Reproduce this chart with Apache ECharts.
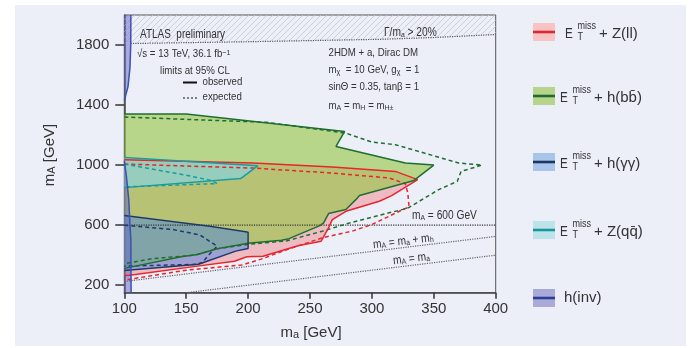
<!DOCTYPE html>
<html>
<head>
<meta charset="utf-8">
<script src="https://cdn.jsdelivr.net/npm/echarts@6/dist/echarts.min.js"></script>
<style>
  html, body { margin: 0; padding: 0; background: #ffffff; }
  #panel { position: absolute; left: 15px; top: 5px; width: 671px; height: 341px; background: #eceef8; }
  #main { position: absolute; left: 0; top: 0; width: 692px; height: 348px; }
</style>
</head>
<body>
<div id="panel"></div>
<div id="main"></div>
<script>
// axis ranges / ticks
const xRange = [100, 400]
const yRange = [150, 2000]
const yTickValues = [200, 600, 1000, 1400, 1800]

// contours, [m_a, m_A] in GeV
const zllObserved = [[100, 1036], [204, 1014], [268, 987], [319, 958], [337, 903], [316, 797], [306, 759], [279, 692], [268, 637], [265, 582], [259, 493], [241, 465], [212, 393], [199, 389], [189, 360], [159, 327], [103, 265], [100, 265]]
const zllExpected = [[100, 1007], [204, 980], [268, 947], [314, 914], [327, 876], [329, 815], [330, 720], [325, 704], [300, 604], [284, 560], [260, 516], [228, 427], [210, 372], [195, 335], [150, 300], [103, 238], [100, 238]]

const bbObserved = [[100, 1340], [150, 1340], [278, 1224], [271, 1124], [327, 1014], [350, 1000], [334, 898], [290, 797], [287, 770], [279, 704], [265, 677], [261, 615], [258, 597], [233, 510], [227, 500], [200, 480], [175, 443], [159, 405], [146, 389], [100, 312]]
const bbExpected = [[100, 1320], [215, 1285], [279, 1213], [300, 1153], [319, 1136], [370, 1014], [389, 1000], [372, 958], [369, 892], [354, 837], [330, 718], [325, 705], [282, 615], [260, 560], [231, 495], [200, 472], [175, 442], [157, 400], [122, 376], [100, 343]]

const yyObserved = [[100, 664], [169, 593], [198, 556], [200, 553], [200, 445], [190, 427], [160, 340], [100, 298]]
const yyExpected = [[100, 600], [139, 571], [161, 535], [175, 460], [168, 400], [163, 350], [156, 338], [100, 327]]

const zqqObserved = [[100, 1051], [208, 996], [194, 910], [100, 850]]
const zqqExpected = [[100, 1007], [148, 936], [170, 898], [175, 877], [100, 855]]

const hinvObserved = [[100, 150], [105.5, 150], [105.3, 500], [104.6, 600], [103.6, 770], [101.7, 925], [100.5, 1000], [100, 1030], [100, 1430], [100.5, 1440], [103, 1523], [104.6, 1650], [105.2, 1800], [105.3, 2000], [100, 2000]]
const hinvLower = [[105.5, 150], [105.3, 500], [104.6, 600], [103.6, 770], [101.7, 925], [100.5, 1000], [100, 1030]]
const hinvUpper = [[100, 1430], [100.5, 1440], [103, 1523], [104.6, 1650], [105.2, 1800], [105.3, 2000]]

// width limit, reference lines
const widthLimit = [[105, 1810], [200, 1822], [306, 1838], [350, 1850], [400, 1870]]
const widthRegion = [[100, 2000], [400, 2000]].concat(widthLimit.slice().reverse()).concat([[100, 1810]])
const lineMA600 = [[100, 600], [400, 600]]
const lineMAmamh = [[100, 225], [400, 525]]
const lineMAma = [[150, 150], [400, 400]]

const legendItems = [
  { main: '+ Z(ll)', line: '#e3242b', box: '#f8c3c4', y: 32, dx: 5 },
  { main: '+ h(bb\u0304)', line: '#1e6b2f', box: '#b6d48b', y: 96, dx: 0 },
  { main: '+ h(\u03b3\u03b3)', line: '#1c3566', box: '#a8c5ea', y: 162, dx: 0 },
  { main: '+ Z(qq\u0304)', line: '#14999b', box: '#bde2ea', y: 230, dx: 0 },
  { main: 'h(inv)', line: '#2d3f97', box: '#a9aad8', y: 298, dx: 4, plain: true }
]

const FONT = '"Liberation Sans", Arial, sans-serif'

const hatch = document.createElement('canvas')
hatch.width = 6
hatch.height = 6
const hc = hatch.getContext('2d')
hc.strokeStyle = '#c5c7d3'
hc.lineWidth = 0.8
hc.beginPath()
hc.moveTo(0, 6); hc.lineTo(6, 0)
hc.moveTo(-1, 1); hc.lineTo(1, -1)
hc.moveTo(5, 7); hc.lineTo(7, 5)
hc.stroke()

function fill (points, color, z) {
  return {
    type: 'custom',
    coordinateSystem: 'cartesian2d',
    silent: true,
    clip: true,
    z: z,
    data: [points[0]],
    renderItem: function (params, api) {
      return {
        type: 'polygon',
        shape: { points: points.map(p => api.coord(p)) },
        style: { fill: color }
      }
    }
  }
}

function outline (points, color, type, width, z, close) {
  return {
    type: 'line',
    silent: true,
    symbol: 'none',
    z: z,
    data: close ? points.concat([points[0]]) : points,
    lineStyle: { color: color, width: width, type: type }
  }
}

const rich = {
  s: { fontSize: 8, lineHeight: 4, verticalAlign: 'bottom', fill: '#333', fontFamily: FONT },
  p: { fontSize: 8, lineHeight: 4, verticalAlign: 'top', fill: '#333', fontFamily: FONT }
}

function label (x, y, text, size, rot, sx) {
  return {
    type: 'text',
    x: x,
    y: y,
    rotation: rot || 0,
    scaleX: sx || 0.88,
    z: 50,
    style: { text: text, fontSize: size || 11, fontFamily: FONT, fill: '#333', align: 'left', verticalAlign: 'middle', rich: rich }
  }
}

const graphics = [
  label(140, 35, 'ATLAS  preliminary', 12, 0, 0.83),
  label(137, 54, '\u221as = 13 TeV, 36.1 fb{p|\u22121}'),
  label(160, 70.7, 'limits at 95% CL'),
  { type: 'line', z: 50, shape: { x1: 183, y1: 82.5, x2: 197, y2: 82.5 }, style: { stroke: '#111', lineWidth: 2 } },
  label(202.5, 81.7, 'observed'),
  { type: 'line', z: 50, shape: { x1: 183, y1: 98, x2: 197, y2: 98 }, style: { stroke: '#111', lineWidth: 1.2, lineDash: [2, 2] } },
  label(202.5, 97.3, 'expected'),
  label(384, 33, '\u0393/m{s|a} > 20%', 12, 0, 0.85),
  label(328.5, 53.3, '2HDM + a, Dirac DM'),
  label(328.5, 70, 'm{s|\u03c7}  = 10 GeV, g{s|\u03c7}  = 1'),
  label(328.5, 86.7, 'sin\u0398 = 0.35, tan\u03b2 = 1'),
  label(328.5, 106, 'm{s|A} = m{s|H} = m{s|H\u00b1}'),
  label(412, 216, 'm{s|A} = 600 GeV', 12, 0, 0.85),
  label(373, 245, 'm{s|A} = m{s|a} + m{s|h}', 12, 0.12, 0.85),
  label(393, 261, 'm{s|A} = m{s|a}', 12, 0.12, 0.85),
  {
    type: 'text', x: 311, y: 333, z: 50,
    style: { text: 'm{a|a} [GeV]', fontSize: 15, fontFamily: FONT, fill: '#333', align: 'center', verticalAlign: 'middle',
      rich: { a: { fontSize: 11, lineHeight: 6, verticalAlign: 'bottom', fill: '#333', fontFamily: FONT } } }
  },
  {
    type: 'text', x: 50, y: 155, z: 50, rotation: Math.PI / 2,
    style: { text: 'm{a|A} [GeV]', fontSize: 15, fontFamily: FONT, fill: '#333', align: 'center', verticalAlign: 'middle',
      rich: { a: { fontSize: 11, lineHeight: 6, verticalAlign: 'bottom', fill: '#333', fontFamily: FONT } } }
  }
]

legendItems.forEach(function (it) {
  graphics.push({ type: 'rect', z: 50, shape: { x: 533, y: it.y - 9, width: 22, height: 18 }, style: { fill: it.box } })
  graphics.push({ type: 'line', z: 51, shape: { x1: 533, y1: it.y, x2: 555, y2: it.y }, style: { stroke: it.line, lineWidth: 2.6 } })
  const tx = 560 + it.dx
  const ts = { fontSize: 15, fontFamily: FONT, fill: '#333', align: 'left', verticalAlign: 'middle' }
  if (it.plain) {
    graphics.push({ type: 'text', z: 51, x: tx, y: it.y, style: Object.assign({ text: it.main }, ts) })
    return
  }
  graphics.push({ type: 'text', z: 51, x: tx, y: it.y + 2, scaleX: 0.78, style: Object.assign({ text: 'E' }, ts) })
  graphics.push({ type: 'text', z: 51, x: tx + 12.5, y: it.y - 6, scaleX: 0.82, style: Object.assign({}, ts, { text: 'miss', fontSize: 11 }) })
  graphics.push({ type: 'text', z: 51, x: tx + 12.5, y: it.y + 5, scaleX: 0.82, style: Object.assign({}, ts, { text: 'T', fontSize: 11 }) })
  graphics.push({ type: 'text', z: 51, x: tx + 34, y: it.y + 2, style: Object.assign({ text: it.main }, ts) })
})

const chart = echarts.init(document.getElementById('main'), null, { renderer: 'canvas' })
chart.setOption({
  animation: false,
  backgroundColor: 'transparent',
  grid: { left: 124.3, right: 196.3, top: 15, bottom: 55.3, show: true, borderColor: '#555', borderWidth: 1 },
  xAxis: {
    type: 'value',
    min: xRange[0],
    max: xRange[1],
    interval: 50,
    axisLine: { lineStyle: { color: '#444', width: 1.5 } },
    axisTick: { length: 6, lineStyle: { color: '#333', width: 1.5 } },
    axisLabel: { margin: 9, fontSize: 15, fontFamily: FONT, color: '#333', formatter: v => String(v) },
    splitLine: { show: false }
  },
  yAxis: {
    type: 'value',
    min: yRange[0],
    max: yRange[1],
    axisLine: { show: true, lineStyle: { color: '#444', width: 1.5 } },
    axisTick: { show: true, length: 9, customValues: yTickValues, lineStyle: { color: '#333', width: 1.5 } },
    axisLabel: { margin: 15, fontSize: 15, fontFamily: FONT, color: '#333', customValues: yTickValues, formatter: v => String(v) },
    splitLine: { show: false }
  },
  graphic: graphics,
  series: [
    fill(widthRegion, { image: hatch, repeat: 'repeat' }, 1),
    fill(zllObserved, 'rgba(245,125,128,0.45)', 2),
    fill(bbObserved, 'rgba(150,198,70,0.62)', 3),
    fill(zqqObserved, 'rgba(130,212,232,0.62)', 4),
    fill(yyObserved, 'rgba(60,128,228,0.45)', 5),
    fill(hinvObserved, 'rgba(100,100,200,0.5)', 6),
    outline(widthLimit, '#555', 'dotted', 1.2, 10),
    outline(lineMA600, '#333', 'dotted', 1.2, 10),
    outline(lineMAmamh, '#666', 'dotted', 1.2, 10),
    outline(lineMAma, '#666', 'dotted', 1.2, 10),
    outline(zllExpected, '#e8252b', [4, 3], 1.5, 11),
    outline(bbExpected, '#1f6e30', [4, 3], 1.5, 11),
    outline(zqqExpected, '#189ca3', [4, 3], 1.5, 11),
    outline(yyExpected, '#1f3a6a', [4, 3], 1.5, 11),
    outline(zllObserved, '#e8252b', 'solid', 1.5, 12),
    outline(bbObserved, '#1f6e30', 'solid', 1.5, 12),
    outline(zqqObserved, '#189ca3', 'solid', 1.5, 12),
    outline(yyObserved, '#1f3a6a', 'solid', 1.5, 12),
    outline(hinvLower, '#3a52b0', 'solid', 1.5, 12),
    outline(hinvUpper, '#3a52b0', 'solid', 1.5, 12)
  ]
})
</script>
</body>
</html>
